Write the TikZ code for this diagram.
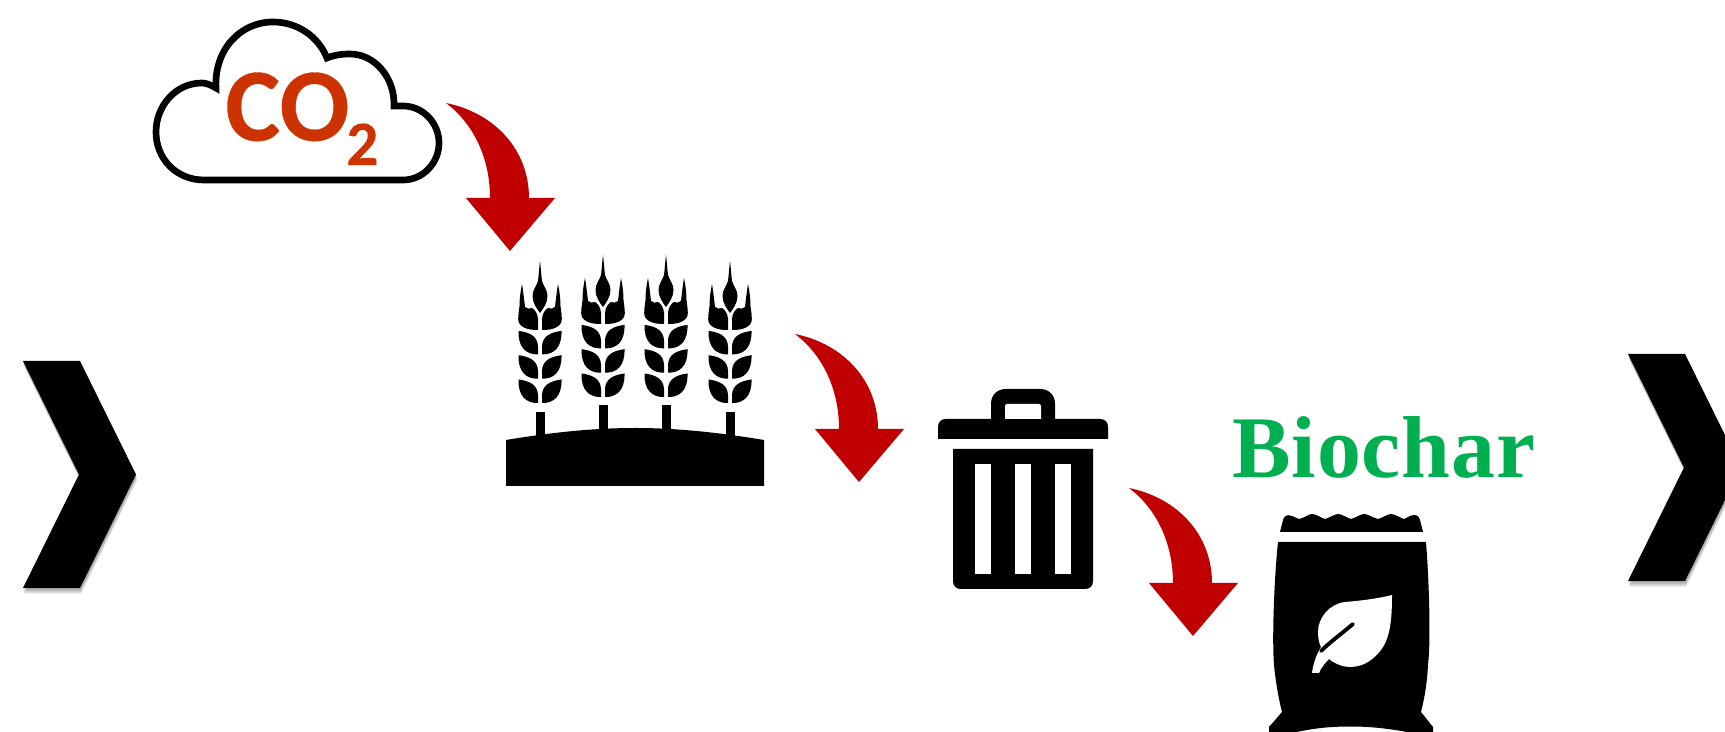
\documentclass[tikz,border=0pt]{standalone}
\usepackage{fontspec}
\newfontfamily\cofont{Carlito}[BoldFeatures={FakeBold=0.3}]
\newfontfamily\biofont{Liberation Serif}[LetterSpace=1]
\definecolor{redarrow}{HTML}{C00000}
\definecolor{coorange}{HTML}{CC3300}
\definecolor{biogreen}{HTML}{00B050}
\tikzset{
  redcurve/.style={fill=redarrow,draw=none},
  blackshape/.style={fill=black,draw=none},
  whiteshape/.style={fill=white,draw=none},
  shadowlayer/.style={fill=black,draw=none,opacity=0.07},
  cloudline/.style={draw=black,line width=3.8pt,line join=miter},
}
\newcommand{\chevronpath}[2]{(#1+0,#2+0) -- (#1+57,#2+0) -- (#1+113,#2+113.5) -- (#1+57,#2+227) -- (#1+0,#2+227) -- (#1+56,#2+113.5) -- cycle}
\newcommand{\wheatear}[2]{%
  \begin{scope}[shift={(#1,#2)}]
    \foreach \s in {1,-1}{
      \begin{scope}[xscale=\s]
        \foreach \r in {0,24.3,48.6}{
          \fill[blackshape] (2,-\r) -- (2,{-8-\r}) .. controls (2.5,{-18-\r}) and (10,{-22-\r}) .. (21.5,{-23.5-\r}) .. controls (22,{-7-\r}) and (14,{0.3-\r}) .. (2,-\r) -- cycle;
        }
        \fill[blackshape] (2,-73) -- (2,-84) .. controls (2.5,-90) and (5,-93) .. (8,-95) .. controls (10,-94) and (13,-94) .. (15,-96) .. controls (16,-105) and (17,-113) .. (18,-119) .. controls (19.5,-112) and (20.5,-104) .. (20.5,-97) .. controls (21,-92) and (21.8,-89) .. (21.8,-84) .. controls (22,-77) and (14,-72.7) .. (2,-73) -- cycle;
      \end{scope}
    }
    \fill[blackshape] (0,-90) .. controls (-3,-94) and (-7.5,-100) .. (-7.5,-107) .. controls (-7.5,-113) and (-3,-118) .. (-2,-122) .. controls (-1.2,-128) and (-0.8,-136) .. (0,-142) .. controls (0.8,-136) and (1.2,-128) .. (2,-122) .. controls (3,-118) and (7.5,-113) .. (7.5,-107) .. controls (7.5,-100) and (3,-94) .. (0,-90) -- cycle;
  \end{scope}}
\newcommand{\redarrowshape}[2]{%
  \fill[redcurve,shift={(#1,#2)}] (446,103) .. controls (495,113) and (529,150) .. (529,198) -- (555,198) -- (510,251) -- (466,198) -- (490,198) .. controls (490,160) and (475,125) .. (446,103) -- cycle;}
\begin{document}
\begin{tikzpicture}[x=0.02cm,y=-0.02cm]
\useasboundingbox (0,0) rectangle (1725,732);
\clip (0,0) rectangle (1725,732);
\fill[white] (0,0) rectangle (1725,732);

% chevrons with soft shadow
\foreach \ox/\oy in {23/361,1628/354}{
  \foreach \d in {1,2,3,4,5,6}{
    \fill[shadowlayer] \chevronpath{\ox+\d*0.2}{\oy+\d*1};
  }
  \fill[blackshape] \chevronpath{\ox}{\oy};
}

% cloud
\draw[cloudline] (403,180) .. controls (423,180) and (439,163) .. (439,143) .. controls (439,123) and (423,106) .. (403,106) -- (394,106) .. controls (395,78) and (375,54) .. (350,54) .. controls (342,54) and (334,55) .. (327,58) .. controls (318,36) and (297,22) .. (273,22) .. controls (240,22) and (214,50) .. (216,88) .. controls (211,85) and (206,83) .. (202,83) .. controls (175.5,83) and (156,106) .. (156,132) .. controls (156,158.5) and (176,180) .. (204,180) -- cycle;
\node[anchor=base west,inner sep=0pt,text=coorange,font=\cofont\bfseries\fontsize{59pt}{59pt}\selectfont] (co) at (225,140.5) {CO};
\node[anchor=base west,inner sep=0pt,text=coorange,font=\cofont\bfseries\fontsize{36pt}{36pt}\selectfont] (two) at (346,165) {2};

% arrows
\redarrowshape{0}{0}
\redarrowshape{349}{231}
\redarrowshape{683}{385}

% wheat
\foreach \cx/\st in {540/412,603/405,666/405,730/412}{
  \fill[blackshape] (\cx-4.5,\st) rectangle (\cx+4.5,440);
}
\fill[blackshape] (506,440) .. controls (560,431) and (600,428) .. (635,428) .. controls (670,428) and (710,431) .. (764,440) -- (764,486) -- (506,486) -- cycle;
\wheatear{540}{403}
\wheatear{603}{397}
\wheatear{666}{397}
\wheatear{730}{403}

% bin
\fill[blackshape] (938,439) -- (938,427) .. controls (938,422) and (941,419) .. (946,419) -- (991,419) -- (991,404) .. controls (991,395) and (997,389) .. (1006,389) -- (1040,389) .. controls (1049,389) and (1055,395) .. (1055,404) -- (1055,419) -- (1100,419) .. controls (1105,419) and (1108,422) .. (1108,427) -- (1108,439) -- cycle;
\fill[whiteshape] (1005,419) -- (1005,406) .. controls (1005,405) and (1006,404) .. (1007,404) -- (1039,404) .. controls (1040,404) and (1041,405) .. (1041,406) -- (1041,419) -- cycle;
\fill[blackshape] (953,449) -- (1093,449) -- (1093,581) .. controls (1093,586) and (1090,589) .. (1085,589) -- (961,589) .. controls (956,589) and (953,586) .. (953,581) -- cycle;
\foreach \sx in {975.3,1015.3,1055.3}{
  \fill[whiteshape] (\sx,464) rectangle (\sx+15.4,573.7);
}

% bag
\fill[blackshape] (1280,532) -- (1283,520) .. controls (1284,516) and (1287,514) .. (1292,516) -- (1299,519) .. controls (1304,518) and (1309,514) .. (1312,514) .. controls (1316,514) and (1321,518) .. (1325,519) .. controls (1329,518) and (1335,514) .. (1338,514) .. controls (1342,514) and (1347,518) .. (1351,519) .. controls (1355,518) and (1361,514) .. (1364,514) .. controls (1368,514) and (1373,518) .. (1378,519) .. controls (1382,518) and (1388,514) .. (1391,514) .. controls (1395,514) and (1400,518) .. (1404,519) -- (1410,516) .. controls (1415,514) and (1419,515) .. (1420,520) -- (1423,532) -- cycle;
\fill[blackshape] (1278,542) -- (1426,542) .. controls (1429,580) and (1431,640) .. (1428,665) .. controls (1427,685) and (1424,700) .. (1421,712) -- (1433,727) -- (1433,732) -- (1407,732) .. controls (1385,728) and (1368,726.5) .. (1350,726.5) .. controls (1332,726.5) and (1315,728) .. (1297,732) -- (1269,732) -- (1269,727) -- (1282,712) .. controls (1279,700) and (1276,685) .. (1274,665) .. controls (1272,640) and (1274,580) .. (1278,542) -- cycle;
% leaf
\fill[whiteshape] (1392,595) .. controls (1376,599) and (1358,601) .. (1345,602) .. controls (1329,604) and (1318,618) .. (1318,632) .. controls (1318,638) and (1319,643) .. (1321,647) .. controls (1316,655) and (1313,665) .. (1312,673) -- (1319,673) .. controls (1321,668) and (1325,663) .. (1329,659) .. controls (1335,664) and (1343,667) .. (1350,667) .. controls (1364,667) and (1374,659) .. (1381,650) .. controls (1390,638) and (1392,620) .. (1392,595) -- cycle;
\draw[black,line width=2.2pt,line cap=round] (1353,624) .. controls (1340,635) and (1330,642) .. (1321,651);

% label
\node[anchor=base west,inner sep=0pt,text=biogreen,font=\biofont\bfseries\fontsize{50pt}{50pt}\selectfont] (bio) at (1232,478) {Biochar};
\end{tikzpicture}
\end{document}
